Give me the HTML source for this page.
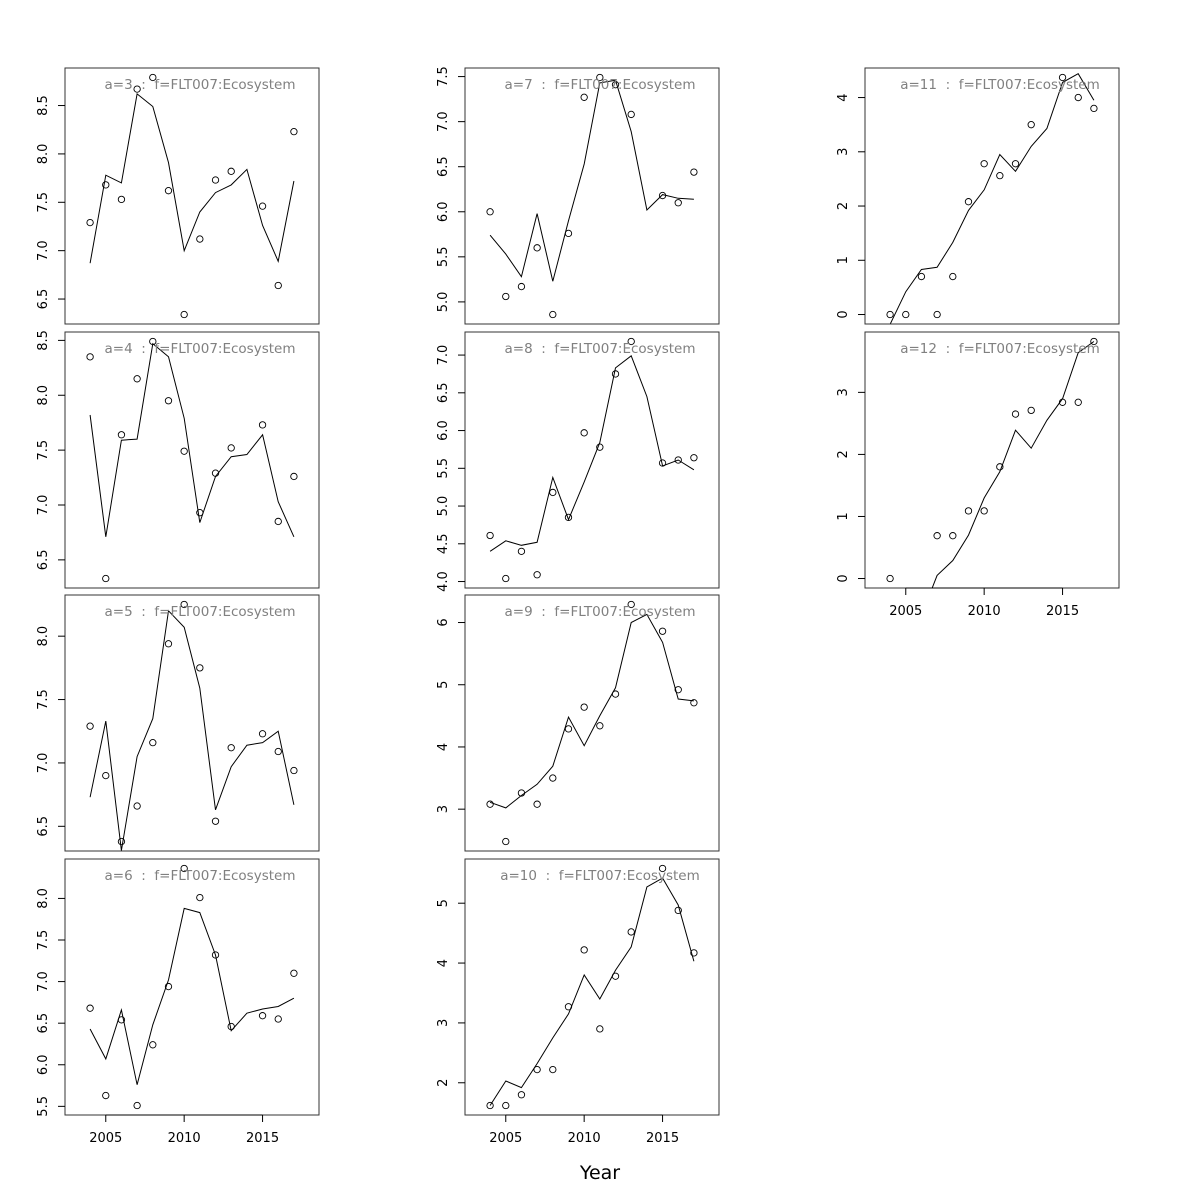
<!DOCTYPE html>
<html><head><meta charset="utf-8"><style>
html,body{margin:0;padding:0;background:#fff}
svg{display:block;font-family:"DejaVu Sans","Liberation Sans",sans-serif}
</style></head><body>
<svg id="chart" width="1200" height="1200" viewBox="0 0 1200 1200">
<text x="600" y="1179" font-size="19" text-anchor="middle">Year</text>
</svg>
<script>
const years = [2004,2005,2006,2007,2008,2009,2010,2011,2012,2013,2014,2015,2016,2017];
const panelLabels = ["a=3","a=4","a=5","a=6","a=7","a=8","a=9","a=10","a=11","a=12"];
const pts3 = [7.29,7.68,7.53,8.67,8.79,7.62,6.34,7.12,7.73,7.82,null,7.46,6.64,8.23];
const fit3 = [6.87,7.78,7.70,8.62,8.49,7.91,7.00,7.40,7.60,7.68,7.84,7.26,6.89,7.72];
const pts4 = [8.35,6.33,7.64,8.15,8.49,7.95,7.49,6.93,7.29,7.52,null,7.73,6.85,7.26];
const fit4 = [7.82,6.71,7.59,7.60,8.47,8.35,7.79,6.84,7.26,7.44,7.46,7.64,7.03,6.71];
const pts5 = [7.29,6.90,6.38,6.66,7.16,7.94,8.25,7.75,6.54,7.12,null,7.23,7.09,6.94];
const fit5 = [6.73,7.33,6.31,7.05,7.35,8.20,8.07,7.59,6.63,6.97,7.14,7.16,7.25,6.67];
const pts6 = [6.68,5.63,6.54,5.51,6.24,6.94,8.36,8.01,7.32,6.46,null,6.59,6.55,7.10];
const fit6 = [6.43,6.07,6.66,5.76,6.48,7.02,7.88,7.83,7.32,6.41,6.62,6.67,6.70,6.80];
const pts7 = [6.00,5.06,5.17,5.60,4.86,5.76,7.27,7.49,7.41,7.08,null,6.18,6.10,6.44];
const fit7 = [5.74,5.53,5.28,5.98,5.23,5.90,6.53,7.43,7.46,6.89,6.02,6.19,6.15,6.14];
const pts8 = [4.61,4.04,4.40,4.09,5.18,4.85,5.97,5.78,6.75,7.18,null,5.57,5.61,5.64];
const fit8 = [4.40,4.54,4.48,4.52,5.38,4.82,5.32,5.84,6.83,6.99,6.45,5.53,5.61,5.48];
const pts9 = [3.08,2.48,3.26,3.08,3.50,4.29,4.64,4.34,4.85,6.29,null,5.86,4.92,4.71];
const fit9 = [3.11,3.02,3.22,3.40,3.69,4.48,4.02,4.50,4.95,6.00,6.13,5.68,4.77,4.74];
const pts10 = [1.62,1.62,1.80,2.22,2.22,3.27,4.22,2.90,3.78,4.52,null,5.58,4.88,4.17];
const fit10 = [1.62,2.03,1.92,2.32,2.75,3.15,3.80,3.40,3.88,4.27,5.27,5.42,4.97,4.03];
const pts11 = [0,0,0.70,0,0.70,2.08,2.78,2.56,2.78,3.50,null,4.37,4.00,3.80];
const fit11 = [-0.18,0.42,0.83,0.87,1.33,1.92,2.30,2.95,2.64,3.10,3.43,4.28,4.44,3.95];
const pts12 = [0,null,null,0.69,0.69,1.09,1.09,1.80,2.65,2.71,null,2.84,2.84,3.82];
const fit12 = [-2.0,-1.4,-0.6,0.05,0.29,0.70,1.30,1.72,2.39,2.10,2.55,2.90,3.64,3.82];
const ticks3 = [6.5,7.0,7.5,8.0,8.5];
const ticks4 = [6.5,7.0,7.5,8.0,8.5];
const ticks5 = [6.5,7.0,7.5,8.0];
const ticks6 = [5.5,6.0,6.5,7.0,7.5,8.0];
const ticks7 = [5.0,5.5,6.0,6.5,7.0,7.5];
const ticks8 = [4.0,4.5,5.0,5.5,6.0,6.5,7.0];
const ticks9 = [3,4,5,6];
const ticks10 = [2,3,4,5];
const ticks11 = [0,1,2,3,4];
const ticks12 = [0,1,2,3];
const xTicks = [2005,2010,2015];

const panels = [
 {pts:pts3,fit:fit3,ticks:ticks3,dec:1,col:0,row:0},
 {pts:pts4,fit:fit4,ticks:ticks4,dec:1,col:0,row:1},
 {pts:pts5,fit:fit5,ticks:ticks5,dec:1,col:0,row:2},
 {pts:pts6,fit:fit6,ticks:ticks6,dec:1,col:0,row:3,xaxis:true},
 {pts:pts7,fit:fit7,ticks:ticks7,dec:1,col:1,row:0},
 {pts:pts8,fit:fit8,ticks:ticks8,dec:1,col:1,row:1},
 {pts:pts9,fit:fit9,ticks:ticks9,dec:0,col:1,row:2},
 {pts:pts10,fit:fit10,ticks:ticks10,dec:0,col:1,row:3,xaxis:true},
 {pts:pts11,fit:fit11,ticks:ticks11,dec:0,col:2,row:0},
 {pts:pts12,fit:fit12,ticks:ticks12,dec:0,col:2,row:1,xaxis:true}
];
const NS="http://www.w3.org/2000/svg";
const svg=document.getElementById('chart');
function mk(tag,attrs,parent){const e=document.createElementNS(NS,tag);for(const k in attrs)e.setAttribute(k,attrs[k]);(parent||svg).appendChild(e);return e;}
const colX=[65,465,865], rowY=[68,332,595,859], W=254, H=256;
panels.forEach((p,i)=>{
  const x0=colX[p.col], y0=rowY[p.row];
  const g=mk('g',{});
  
  
  const vals=p.pts.filter(v=>v!==null);
  let mn=Math.min(...vals), mx=Math.max(...vals); const pad=(mx-mn)*0.04; mn-=pad; mx+=pad;
  const xs=v=>x0+(v-2002.4)/(2018.6-2002.4)*W;
  const ys=v=>y0+H-(v-mn)/(mx-mn)*H;
  const cid='clip'+i;
  const cp=mk('clipPath',{id:cid},g); mk('rect',{x:x0,y:y0,width:W,height:H},cp);
  const d=years.map((yr,j)=>(j?'L':'M')+xs(yr).toFixed(1)+','+ys(p.fit[j]).toFixed(1)).join(' ');
  const ln=mk('path',{d:d,fill:'none',stroke:'#000','stroke-width':1,'clip-path':'url(#'+cid+')'},g);
  
  
  years.forEach((yr,j)=>{ if(p.pts[j]===null)return;
    const c=mk('circle',{cx:xs(yr),cy:ys(p.pts[j]),r:3.2,fill:'none',stroke:'#000','stroke-width':0.9},g);
    
    
  });
  const b=mk('rect',{x:x0,y:y0,width:W,height:H,fill:'none',stroke:'#333','stroke-width':1},g);
  
  
  p.ticks.forEach(t=>{const y=ys(t);
    mk('line',{x1:x0-7,x2:x0,y1:y,y2:y,stroke:'#000'},g);
    const tx=mk('text',{x:0,y:0,'font-size':13,'text-anchor':'middle',transform:`translate(${x0-18},${y}) rotate(-90)`},g);
    tx.textContent=t.toFixed(p.dec);
    
    
  });
  const ti=mk('text',{x:x0+W/2+8,y:y0+21,'font-size':13.5,fill:'#808080','text-anchor':'middle'},g);
  ti.style.whiteSpace='pre';
  ti.textContent=panelLabels[i]+'\u00a0 :\u00a0 f=FLT007:Ecosystem';
  
  
  if(p.xaxis){
    mk('line',{x1:xs(2005),x2:xs(2015),y1:y0+H,y2:y0+H,stroke:'#000'},g);
    xTicks.forEach(t=>{const x=xs(t);
      mk('line',{x1:x,x2:x,y1:y0+H,y2:y0+H+7,stroke:'#000'},g);
      const tx=mk('text',{x:x,y:y0+H+27,'font-size':13,'text-anchor':'middle'},g);
      tx.textContent=t;
      
      
    });
  }
});
</script>
</body></html>
